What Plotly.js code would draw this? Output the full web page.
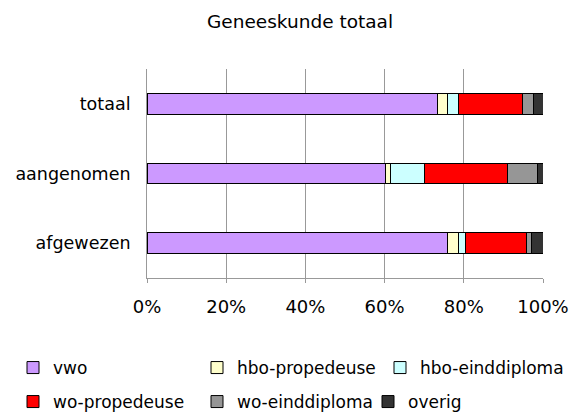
<!DOCTYPE html>
<html>
<head>
<meta charset="utf-8">
<script src="https://cdn.plot.ly/plotly-3.0.1.min.js"></script>
<style>html,body{margin:0;padding:0;background:#fff;}#chart{width:576px;height:413px;}</style>
</head>
<body>
<div id="chart"></div>
<script>
const categories = ['totaal', 'aangenomen', 'afgewezen'];
const seriesNames = ['vwo', 'hbo-propedeuse', 'hbo-einddiploma', 'wo-propedeuse', 'wo-einddiploma', 'overig'];
const vwo = [73.4, 60.2, 75.8];
const hboPropedeuse = [2.4, 1.4, 2.9];
const hboEinddiploma = [2.8, 8.6, 1.8];
const woPropedeuse = [16.1, 20.8, 15.3];
const woEinddiploma = [2.9, 7.5, 1.3];
const overig = [2.4, 1.5, 2.9];
const xTickVals = [0, 20, 40, 60, 80, 100];
const xTickText = ['0%', '20%', '40%', '60%', '80%', '100%'];

const seriesValues = [vwo, hboPropedeuse, hboEinddiploma, woPropedeuse, woEinddiploma, overig];
const colors = ['#CC99FF', '#FFFFCC', '#CCFFFF', '#FF0000', '#969696', '#333333'];
const FONT = 'DejaVu Sans, Arial, sans-serif';

// one legend per entry, placed in a 3 x 2 grid like the reference
const legendIds = ['legend', 'legend2', 'legend3', 'legend4', 'legend5', 'legend6'];
const legendX = [13, 197, 380, 13, 197, 368];
const legendY = [368, 368, 368, 402, 402, 402];

const traces = seriesValues.map((vals, i) => ({
  type: 'bar',
  orientation: 'h',
  name: seriesNames[i],
  y: categories,
  x: vals,
  marker: {color: colors[i], line: {color: '#000000', width: 1}},
  legend: legendIds[i],
  hoverinfo: 'skip'
}));

const layout = {
  width: 576, height: 413,
  paper_bgcolor: '#ffffff', plot_bgcolor: '#ffffff',
  font: {family: FONT, color: '#000000'},
  margin: {l: 147, r: 33, t: 69, b: 135, pad: 0},
  title: {text: 'Geneeskunde totaal', font: {family: FONT, size: 18.5, color: '#000'},
          x: 300/576, xref: 'container', xanchor: 'center', y: 1 - 21.5/413, yref: 'container', yanchor: 'middle'},
  barmode: 'stack',
  bargap: 0.7,
  xaxis: {
    range: [0, 100], tickvals: xTickVals, ticktext: xTickText,
    showgrid: true, gridcolor: '#999999', gridwidth: 1,
    showline: true, linecolor: '#999999', linewidth: 1,
    ticks: 'outside', ticklen: 4, tickcolor: '#999999',
    tickfont: {family: FONT, size: 18, color: '#000'},
    ticklabelstandoff: 8,
    zeroline: false, fixedrange: true
  },
  yaxis: {
    type: 'category', categoryorder: 'array', categoryarray: categories,
    autorange: 'reversed',
    showgrid: false, showline: true, linecolor: '#999999', linewidth: 1,
    ticks: '', tickfont: {family: FONT, size: 17.5, color: '#000'},
    ticklabelstandoff: 12,
    zeroline: false, fixedrange: true
  },
  showlegend: true
};

legendIds.forEach((id, i) => {
  layout[id] = {
    orientation: 'h', xref: 'container', yref: 'container',
    x: legendX[i] / 576, xanchor: 'left', y: 1 - legendY[i] / 413, yanchor: 'middle',
    font: {family: FONT, size: 17, color: '#000'},
    bgcolor: 'rgba(0,0,0,0)', borderwidth: 0
  };
});

Plotly.newPlot('chart', traces, layout, {displayModeBar: false, staticPlot: true});
</script>
</body>
</html>
